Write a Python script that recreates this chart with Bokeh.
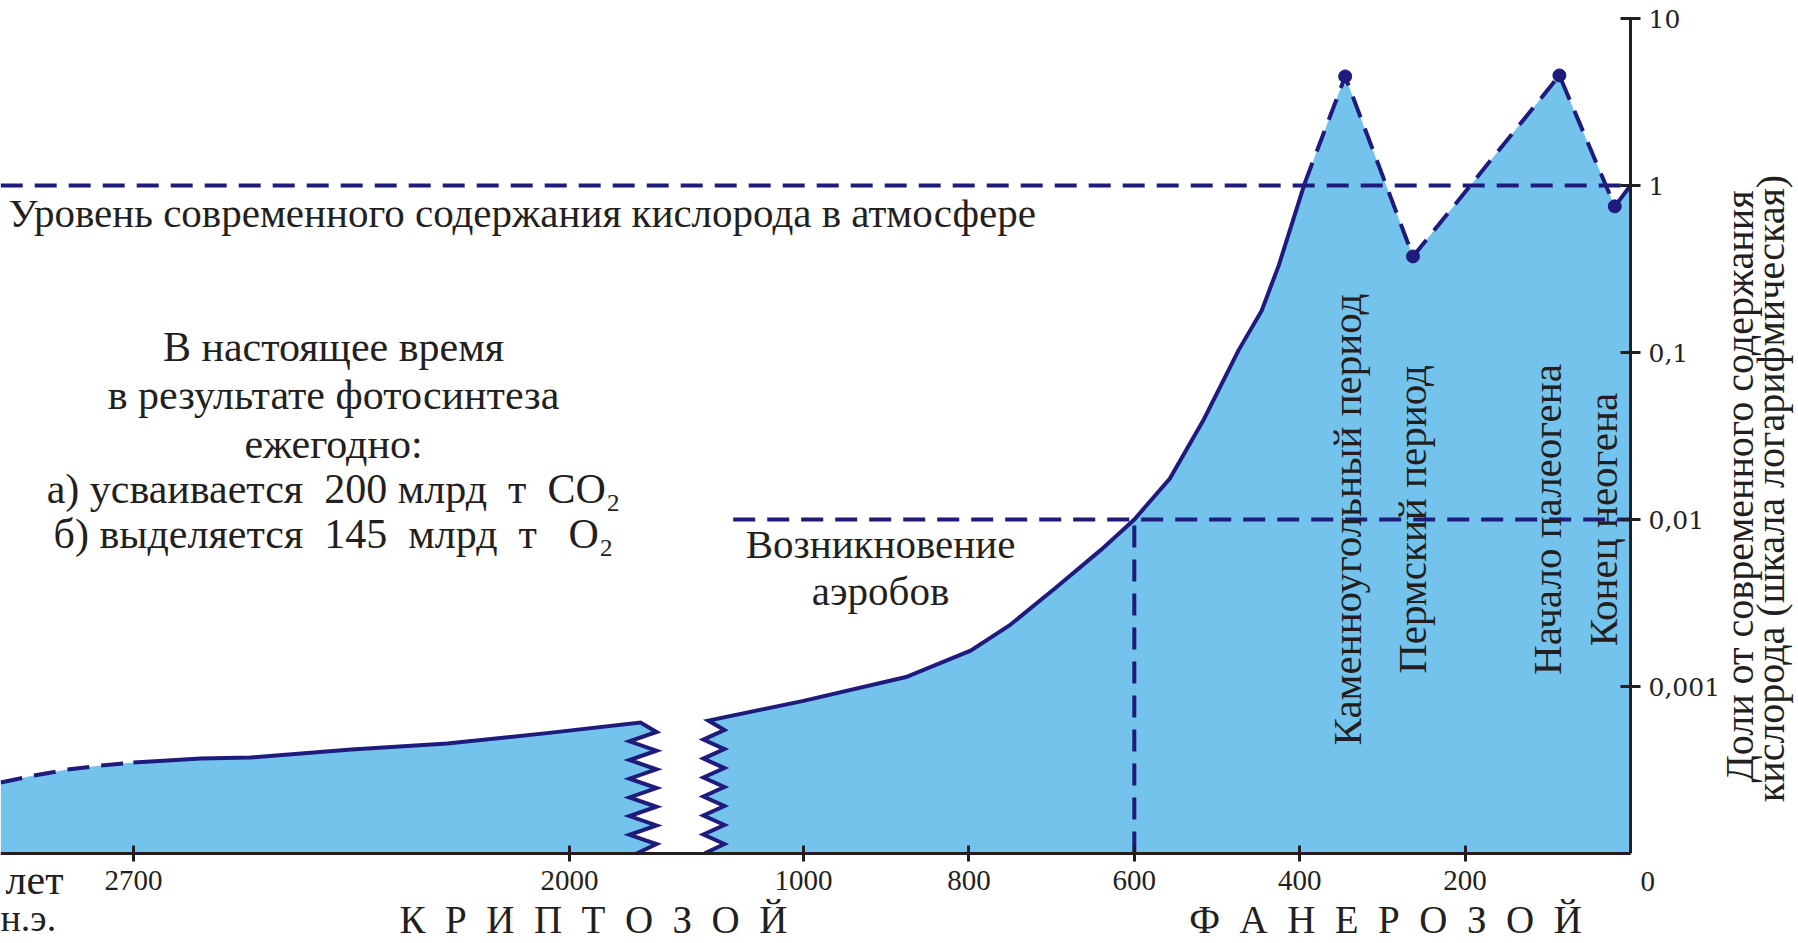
import numpy as np
from bokeh.plotting import figure
from bokeh.models import Range1d, FixedTicker, Label
from bokeh.embed import file_html
from bokeh.resources import INLINE

# ---------------- data (age in million years ago, O2 as fraction of present level) -------------
early_age = [2913, 2860, 2806, 2753, 2700, 2645, 2592, 2512, 2350, 2196, 2040, 1886]
early_o2 = [2.66e-4, 2.93e-4, 3.18e-4, 3.36e-4, 3.51e-4, 3.61e-4, 3.71e-4, 3.76e-4,
            4.2e-4, 4.56e-4, 5.24e-4, 6.08e-4]
late_age = [1115, 1000, 876, 798, 751, 695, 640, 600, 557, 516, 474, 446, 425, 394,
            345, 263, 86, 19, 0]
late_o2 = [6.25e-4, 8.2e-4, 1.14e-3, 1.64e-3, 2.32e-3, 3.9e-3, 6.6e-3, 0.01, 0.0176, 0.0397,
           0.103, 0.178, 0.336, 1.03, 4.5, 0.376, 4.56, 0.75, 1.0]
event_idx = [14, 15, 16, 17]          # Carboniferous, Permian, Paleogene start, Neogene end
x_ticks = [2700, 2000, 1000, 800, 600, 400, 200]
x_tick_labels = ["2700", "2000", "1000", "800", "600", "400", "200"]
zero_label = "0"
y_ticks = [0.001, 0.01, 0.1, 1, 10]
y_tick_labels = ["0,001", "0,01", "0,1", "1", "10"]
modern_level = 1.0
aerobes_level = 0.01
aerobes_age = 600
aerobes_line_from = 1085
Y_MIN, Y_MAX = 1e-4, 10

# ---------------- layout constants ----------------
W, H = 1798, 943
Y10_PX, DECADE_PX = 18, 167          # pixel row of the "10" tick and height of one decade


def xpos(age):
    """Broken time scale: two linear pieces joined at the gap."""
    a = np.asarray(age, dtype=float)
    return np.where(a <= 1500, 1630 - 0.827 * a, 569 + (2000 - a) * 0.623)


def zigzag(x_top, y_top, n, out_off, in_off, end_off):
    ys = np.logspace(np.log10(y_top), np.log10(Y_MIN), 2 * n + 1)
    offs = [0.0] + [out_off if i % 2 else in_off for i in range(1, 2 * n)] + [end_off]
    return [float(x_top + o) for o in offs], [float(v) for v in ys]


NAVY = "#1f1b7c"
FILL = "#74c3ec"
INK = "#231f20"
SERIF = "Liberation Serif"

y_top = 10 ** (1 + Y10_PX / DECADE_PX)
y_bot = 10 ** (1 - (H - Y10_PX) / DECADE_PX)

p = figure(width=W, height=H, output_backend="svg", toolbar_location=None,
           y_axis_type="log", y_axis_location="right", x_axis_location="below",
           x_range=Range1d(0, W), y_range=Range1d(y_bot, y_top), min_border=0)
p.outline_line_color = None
p.xgrid.grid_line_color = None
p.ygrid.grid_line_color = None

ex = [float(v) for v in xpos(early_age)]
lx = [float(v) for v in xpos(late_age)]
x_now = float(xpos(0))

zlx, zly = zigzag(ex[-1], early_o2[-1], 7, 16, -11, -4)
zrx, zry = zigzag(lx[0], late_o2[0], 7, 16, -5, -4)

# fills
p.patch(ex + zlx[1:] + [ex[0]], early_o2 + zly[1:] + [Y_MIN],
        fill_color=FILL, line_color=None)
p.patch(zrx[::-1] + lx[1:] + [lx[-1]], zry[::-1] + late_o2[1:] + [Y_MIN],
        fill_color=FILL, line_color=None)

# reference levels
DASH = "22 12"
p.line([ex[0], x_now], [modern_level, modern_level], line_color=NAVY, line_width=4,
       line_dash=DASH)
xa = [float(v) for v in xpos([aerobes_line_from, 0])]
p.line(xa, [aerobes_level, aerobes_level], line_color=NAVY, line_width=4, line_dash=DASH)
xv = float(xpos(aerobes_age))
p.line([xv, xv], [Y_MIN, aerobes_level], line_color=NAVY, line_width=4, line_dash=DASH)

# curves
p.line(ex[:5], early_o2[:5], line_color=NAVY, line_width=4, line_dash=DASH)
p.line(ex[4:] + zlx[1:], early_o2[4:] + zly[1:], line_color=NAVY, line_width=4,
       line_join="miter")
p.line(zrx[::-1] + lx[1:14], zry[::-1] + late_o2[1:14], line_color=NAVY, line_width=4,
       line_join="miter")
p.line(lx[13:18], late_o2[13:18], line_color=NAVY, line_width=4, line_dash=DASH)
p.line(lx[17:], late_o2[17:], line_color=NAVY, line_width=4)
p.scatter([lx[i] for i in event_idx], [late_o2[i] for i in event_idx], size=13, color=NAVY)

# axes (drawn at fixed data locations so the frame can fill the whole canvas)
xt = [float(v) for v in xpos(x_ticks)]
ax = p.xaxis[0]
ax.fixed_location = Y_MIN
ax.bounds = (ex[0], x_now)
ax.ticker = FixedTicker(ticks=xt)
ax.major_label_overrides = dict(zip(xt, x_tick_labels))
ax.minor_tick_line_color = None
ax.axis_line_width = 3
ax.axis_line_color = INK
ax.major_tick_line_width = 3
ax.major_tick_line_color = INK
ax.major_tick_in = 8
ax.major_tick_out = 8
ax.major_label_standoff = 9
ax.major_label_text_font = SERIF
ax.major_label_text_font_size = "29px"
ax.major_label_text_color = INK

ay = p.yaxis[0]
ay.fixed_location = x_now
ay.bounds = (Y_MIN, Y_MAX)
ay.ticker = FixedTicker(ticks=y_ticks)
ay.major_label_overrides = dict(zip([float(t) for t in y_ticks], y_tick_labels))
ay.minor_tick_line_color = None
ay.axis_line_width = 3
ay.axis_line_color = INK
ay.major_tick_line_width = 3
ay.major_tick_line_color = INK
ay.major_tick_in = 10
ay.major_tick_out = 10
ay.major_label_standoff = 8
ay.major_label_text_font = "DejaVu Serif"
ay.major_label_text_font_size = "25px"
ay.major_label_text_color = INK


# texts (x, y in canvas pixels from top-left)
def lab(text, x, y, size="41px", align="left", baseline="alphabetic", angle=0.0):
    p.add_layout(Label(text=text, x=x, y=H - y, x_units="screen", y_units="screen",
                       text_font=SERIF, text_font_size=size, text_color=INK,
                       text_align=align, text_baseline=baseline, angle=angle))


NB = "\u00a0"
lab("Уровень современного содержания кислорода в атмосфере", 8, 212)
block = ["В настоящее время", "в результате фотосинтеза", "ежегодно:",
         f"а) усваивается{NB} 200 млрд{NB} т{NB} CO₂",
         f"б) выделяется{NB} 145{NB} млрд{NB} т{NB}{NB} O₂"]
for line, yy in zip(block, [346, 394, 443, 488, 533]):
    lab(line, 333, yy, size="42px", align="center")
lab("Возникновение", 880, 543, align="center")
lab("аэробов", 880, 590, align="center")
for t, xx in zip(["Каменноугольный период", "Пермский период", "Начало палеогена",
                  "Конец неогена"], [1346, 1411, 1546, 1602]):
    lab(t, xx, 519, align="center", baseline="middle", angle=np.pi / 2)
lab("Доли от современного содержания", 1739, 486, size="40px", align="center",
    baseline="middle", angle=np.pi / 2)
lab("кислорода (шкала логарифмическая)", 1770, 488, size="40px", align="center",
    baseline="middle", angle=np.pi / 2)
lab("К\u2002Р\u2002И\u2002П\u2002Т\u2002О\u2002З\u2002О\u2002Й", 593, 919, size="39px",
    align="center")
lab("Ф\u2002А\u2002Н\u2002Е\u2002Р\u2002О\u2002З\u2002О\u2002Й", 1385, 919, size="39px",
    align="center")
lab("лет", 63, 879, size="42px", align="right")
lab("н.э.", 0, 917, size="38px", align="left")
lab(zero_label, 1640, 881, size="29px", align="left")

open("out.html", "w").write(file_html(p, INLINE))
